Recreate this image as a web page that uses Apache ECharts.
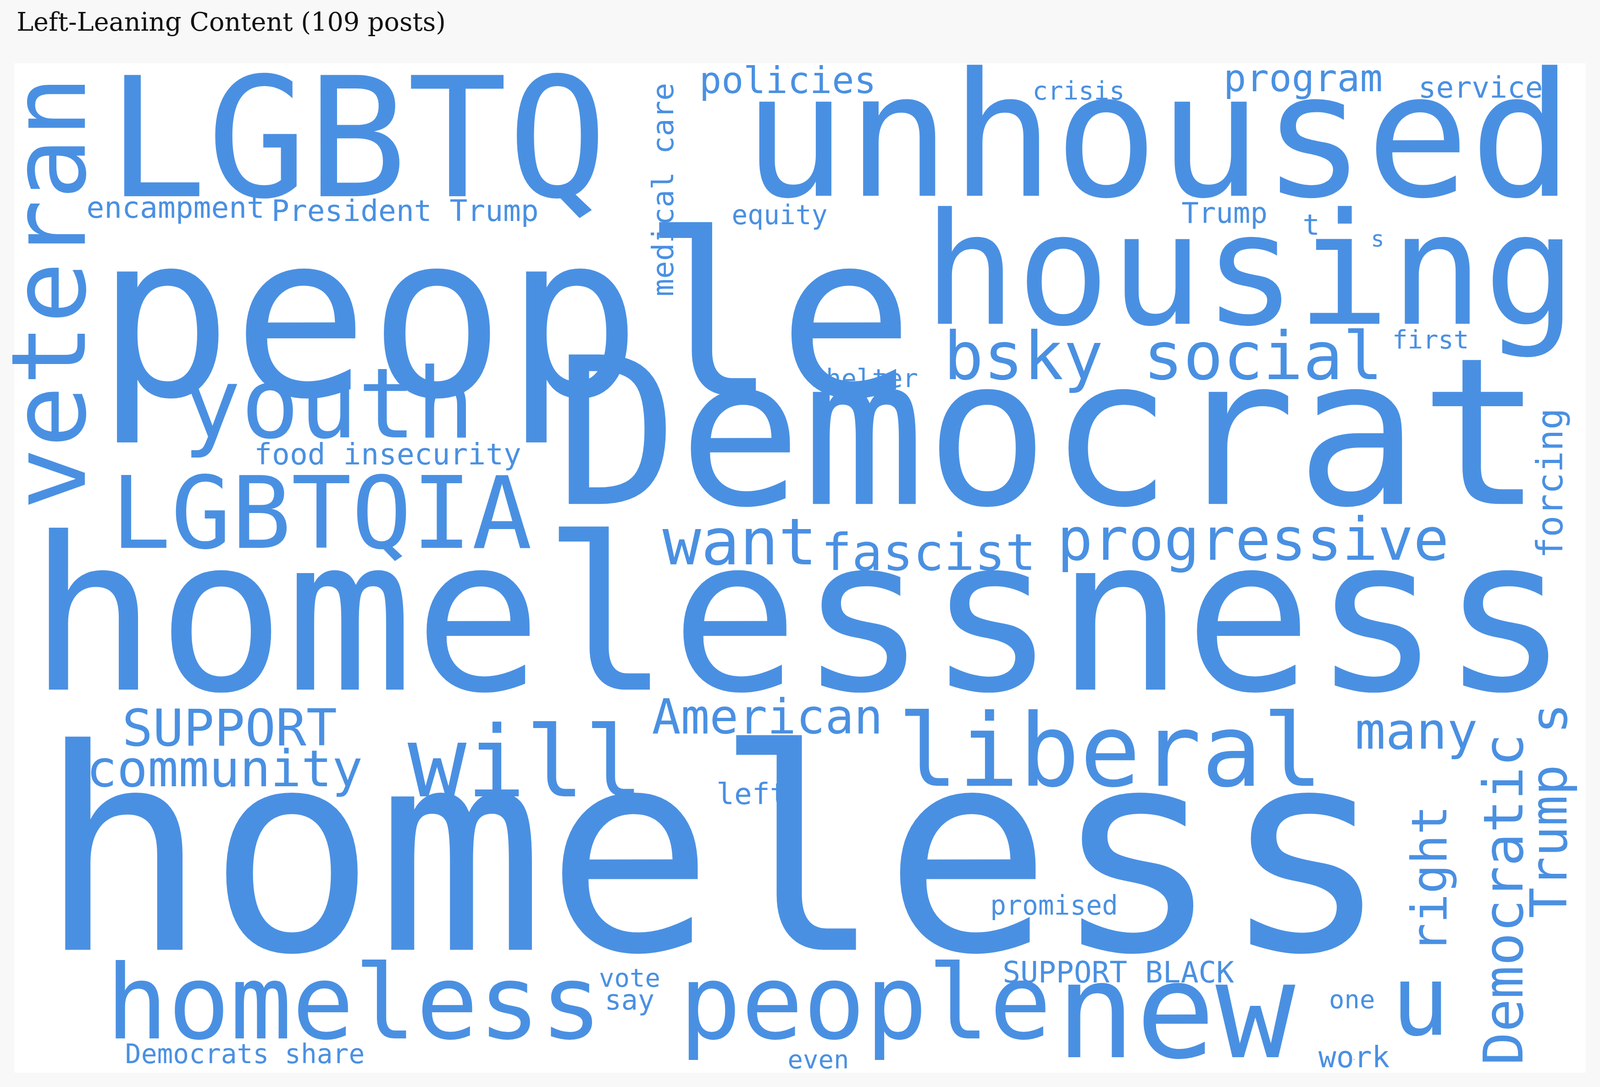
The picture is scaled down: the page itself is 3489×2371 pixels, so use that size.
<!DOCTYPE html>
<html>
<head>
<meta charset="utf-8">
<script src="https://cdn.jsdelivr.net/npm/echarts@6/dist/echarts.min.js"></script>
<style>
html, body { margin: 0; padding: 0; background: #f8f8f8; }
#chart { width: 3489px; height: 2371px; }
</style>
</head>
<body>
<div id="chart"></div>
<script>
// word cloud, layout measured on a 1568 x 1066 copy of the picture
var SCALE = 3489 / 1568;
var words = ['homeless', 'homelessness', 'people', 'Democrat', 'unhoused', 'LGBTQ', 'housing', 'veteran',
    'youth', 'LGBTQIA', 'bsky social', 'progressive', 'fascist', 'want', 'liberal', 'will', 'American',
    'SUPPORT', 'community', 'many', 'homeless', 'people', 'new', 'u', 'Democratic', 'Trump s', 'right',
    'forcing', 'medical care', 'policies', 'program', 'crisis', 'service', 'encampment', 'President Trump',
    'equity', 'Trump', 't', 's', 'first', 'shelter', 'food insecurity', 'left', 'promised', 'SUPPORT BLACK',
    'vote', 'say', 'one', 'Democrats share', 'even', 'work'];
var sizes = [275, 209, 222, 201, 169, 163, 152, 101, 95, 98, 65, 58, 50, 63, 99, 96, 47,
    50, 50, 50, 101, 101, 130, 95, 54, 50, 48, 35, 29, 36, 37, 25, 29, 29, 29,
    26, 28, 28, 22, 25, 25, 29, 29, 26, 29, 25, 27, 25, 26, 25, 29];
var xs = [700, 783, 495, 1028, 1135, 350, 1225, 57, 322, 315, 1140, 1228, 910, 725, 1088, 515, 752,
    225, 220, 1388, 347, 848, 1152, 1392, 1478, 1522, 1405, 1522, 652, 772, 1277, 1057, 1451, 172, 397,
    764, 1200, 1285, 1350, 1402, 847, 380, 737, 1033, 1096, 617, 617, 1325, 240, 802, 1327];
var ys = [860, 622, 330, 442, 148, 150, 278, 287, 404, 512, 355, 534, 546, 537, 745, 756, 707,
    718, 758, 721, 992, 992, 1003, 990, 882, 795, 862, 474, 186, 82, 80, 91, 88, 206, 209,
    213, 211, 223, 236, 335, 373, 448, 781, 890, 956, 961, 983, 982, 1036, 1041, 1039];
var rotations = [0, 0, 0, 0, 0, 0, 0, 90, 0, 0, 0, 0, 0, 0, 0, 0, 0,
    0, 0, 0, 0, 0, 0, 0, 90, 90, 90, 90, 90, 0, 0, 0, 0, 0, 0,
    0, 0, 0, 0, 0, 0, 0, 0, 0, 0, 0, 0, 0, 0, 0, 0];

var chart = echarts.init(document.getElementById('chart'));
var data = [];
for (var i = 0; i < words.length; i++) {
    data.push({
        value: [xs[i], ys[i]],
        name: words[i],
        label: { fontSize: sizes[i] * SCALE, rotate: rotations[i] }
    });
}
var option = {
    backgroundColor: '#f8f8f8',
    animation: false,
    title: {
        text: 'Left-Leaning Content (109 posts)',
        left: 14 * SCALE,
        top: 9 * SCALE,
        textStyle: { fontFamily: 'DejaVu Serif', fontWeight: 'normal', fontSize: 25 * SCALE, color: '#111' }
    },
    grid: {
        left: 14 * SCALE, right: 14 * SCALE, top: 62 * SCALE, bottom: 14 * SCALE,
        show: true, backgroundColor: '#ffffff', borderWidth: 0
    },
    xAxis: { type: 'value', min: 14, max: 1554, show: false },
    yAxis: { type: 'value', min: 62, max: 1052, inverse: true, show: false },
    series: [{
        type: 'scatter',
        symbolSize: 0,
        clip: false,
        itemStyle: { opacity: 1 },
        data: data,
        label: {
            show: true,
            position: 'inside',
            align: 'center',
            verticalAlign: 'middle',
            color: '#4a90e2',
            opacity: 1,
            fontFamily: 'DejaVu Sans Mono',
            formatter: function (p) { return p.name; }
        }
    }]
};
chart.setOption(option);
</script>
</body>
</html>
